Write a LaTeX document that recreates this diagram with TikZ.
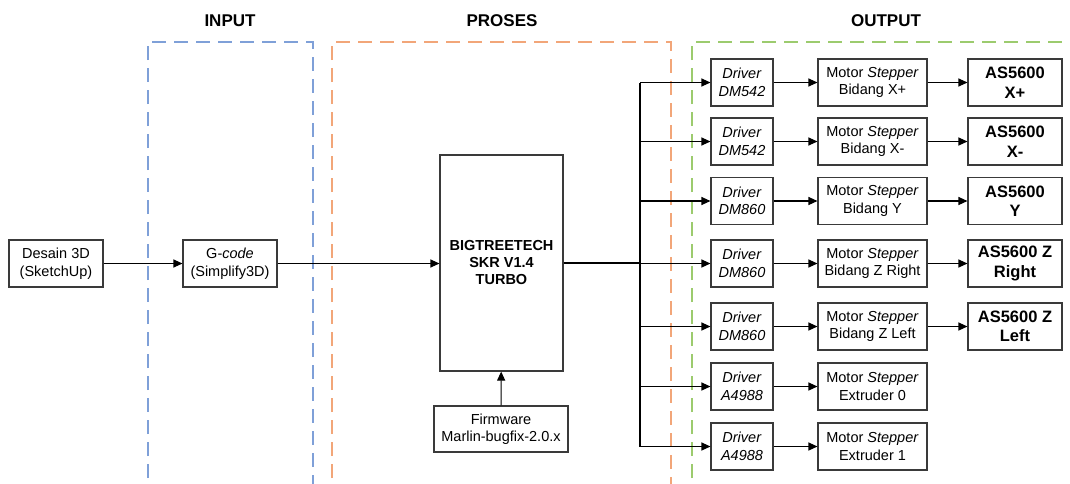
\documentclass[tikz,border=0pt]{standalone}
\usepackage{fontspec}
\setmainfont{Liberation Sans}
\usetikzlibrary{arrows.meta}
\definecolor{inblue}{HTML}{7FA0D8}
\definecolor{procorange}{HTML}{F2A679}
\definecolor{outgreen}{HTML}{9CCB6E}
\definecolor{boxline}{HTML}{3A3A3A}
\tikzset{
  blk/.style={draw=boxline, line width=1.1pt, align=center, inner sep=1pt,
    font=\fontsize{14.5}{17.5}\selectfont},
  drvbox/.style={blk, minimum width=62pt, minimum height=47pt},
  motbox/.style={blk, minimum width=109pt, minimum height=47pt},
  asbox/.style={blk, minimum width=94pt, minimum height=47pt,
    font=\fontsize{16.5}{19.5}\selectfont\bfseries},
  conn/.style={line width=1.1pt, draw=black},
  arr/.style={conn, -{Triangle[length=9pt,width=8pt]}},
  zone/.style={line width=1.6pt, dash pattern=on 14pt off 8pt},
  ttl/.style={font=\fontsize{17}{20}\selectfont\bfseries},
}
\begin{document}
\begin{tikzpicture}[x=1pt,y=-1pt]
\useasboundingbox (0,0) rectangle (1070,483);
\begin{scope}
\clip (0,0) rectangle (1070,483);
\draw[zone, inblue] (148,500) -- (148,42) -- (313,42) -- (313,500);
\draw[zone, procorange] (332,500) -- (332,42) -- (671,42) -- (671,500);
\draw[zone, outgreen] (692,500) -- (692,42) -- (1090,42);
\end{scope}
\node[ttl] (tin) at (230,21) {INPUT};
\node[ttl] (tpr) at (502,21) {PROSES};
\node[ttl] (tout) at (886,21) {OUTPUT};

\node[blk, minimum width=94pt, minimum height=47pt] (desain) at (56,263.5) {Desain 3D\\(SketchUp)};
\node[blk, minimum width=94pt, minimum height=47pt] (gcode) at (230,263.5) {G-\textit{code}\\(Simplify3D)};
\node[blk, minimum width=123pt, minimum height=216pt, font=\fontsize{14.5}{17}\selectfont\bfseries] (btt) at (501.5,263) {BIGTREETECH\\SKR V1.4\\TURBO};
\node[blk, minimum width=134pt, minimum height=46pt] (fw) at (501,429) {Firmware\\Marlin-bugfix-2.0.x};

\draw[arr] (desain) -- (gcode);
\draw[arr] (gcode) -- (btt.west |- gcode);
\draw[arr] (fw) -- (btt);

\coordinate (bustop) at (640,82.5);
\coordinate (busbot) at (640,446.5);
\coordinate (busmid) at (640,263);
\draw[conn] (btt.east |- busmid) -- (busmid);
\draw[conn] (bustop) -- (busbot);

\foreach \i/\y/\drv/\mot in {
  1/82.5/DM542/Bidang X+,
  2/141.5/DM542/Bidang X-,
  3/201/DM860/Bidang Y,
  4/263.5/DM860/Bidang Z Right,
  5/326.5/DM860/Bidang Z Left,
  6/386.5/A4988/Extruder 0,
  7/446.5/A4988/Extruder 1}{
  \node[drvbox] (d\i) at (742,\y) {\textit{Driver}\\\textit{\drv}};
  \node[motbox] (m\i) at (872.5,\y) {Motor \textit{Stepper}\\\mot};
  \coordinate (b\i) at (640,\y);
  \draw[arr] (b\i) -- (d\i);
  \draw[arr] (d\i) -- (m\i);
}
\node[asbox] (a1) at (1015,82.5) {AS5600\\X+};
\node[asbox] (a2) at (1015,141.5) {AS5600\\X-};
\node[asbox] (a3) at (1015,201) {AS5600\\Y};
\node[asbox] (a4) at (1015,263.5) {AS5600 Z\\Right};
\node[asbox] (a5) at (1015,326.5) {AS5600 Z\\Left};
\foreach \i in {1,...,5}{ \draw[arr] (m\i) -- (a\i); }
\end{tikzpicture}
\end{document}
